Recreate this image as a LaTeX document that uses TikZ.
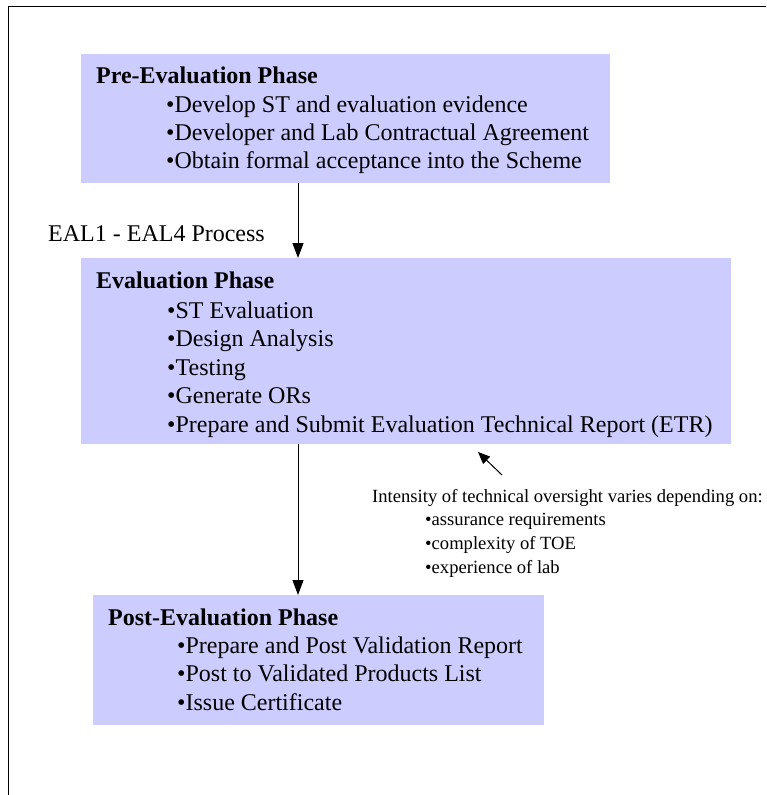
\documentclass[tikz,border=0pt]{standalone}
\usepackage{fontspec}
\setmainfont{Liberation Serif}
\usetikzlibrary{positioning, arrows.meta}
\definecolor{phaseblue}{HTML}{CCCCFF}

\tikzset{
  phase/.style={fill=phaseblue, draw=none, inner sep=0pt, anchor=north west},
  phasetitle/.style={anchor=base west, inner sep=0pt, font=\fontsize{24}{28}\selectfont\bfseries},
  phaseitem/.style={anchor=base west, inner sep=0pt, font=\fontsize{24}{28}\selectfont},
  notetext/.style={anchor=base west, inner sep=0pt, font=\fontsize{18.6}{24}\selectfont},
  flow/.style={-{Triangle[length=15pt,width=11pt]}, line width=1pt},
}

\begin{document}
\begin{tikzpicture}[x=1pt,y=-1pt]
\useasboundingbox (0,0) rectangle (766,795);
\draw[line width=1pt] (8.5,795) |- (766,6.5);

% phase boxes
\node[phase, minimum width=529pt, minimum height=129pt] (pre) at (81,54) {};
\node[phase, minimum width=650pt, minimum height=186pt] (eval) at (81,258) {};
\node[phase, minimum width=451pt, minimum height=130pt] (post) at (93,595) {};

\node[phasetitle] (pre-title) at (96,83) {Pre-Evaluation Phase};
\foreach \txt [count=\i] in {Develop ST and evaluation evidence,
    Developer and Lab Contractual Agreement,
    Obtain formal acceptance into the Scheme}
  \node[phaseitem] (pre-\i) at (166,84+28*\i) {\textbullet\txt};

\node[phasetitle] (eval-title) at (96,288) {Evaluation Phase};
\foreach \txt [count=\i] in {ST Evaluation, Design Analysis, Testing, Generate ORs,
    Prepare and Submit Evaluation Technical Report (ETR)}
  \node[phaseitem] (eval-\i) at (167,289.5+28.5*\i) {\textbullet\txt};

\node[phasetitle] (post-title) at (108,625) {Post-Evaluation Phase};
\foreach \txt [count=\i] in {Prepare and Post Validation Report,
    Post to Validated Products List, Issue Certificate}
  \node[phaseitem] (post-\i) at (177,624.5+28.5*\i) {\textbullet\txt};

% process flow
\coordinate (axis) at (298,0);
\draw[flow] (pre.south -| axis) -- (eval.north -| axis);
\draw[flow] (eval.south -| axis) -- (post.north -| axis);
\node[phaseitem] (eal) at (48,241) {EAL1 - EAL4 Process};

% oversight note
\node[notetext] (note) at (372,502) {Intensity of technical oversight varies depending on:};
\foreach \txt [count=\i] in {assurance requirements, complexity of TOE, experience of lab}
  \node[notetext] (note-\i) at (425,502+23.7*\i) {\textbullet\txt};
\coordinate (note-tail) at (502,475);
\coordinate (note-tip) at (478,452);
\draw[flow, -{Triangle[length=12pt,width=10pt]}] (note-tail) -- (note-tip);
\end{tikzpicture}
\end{document}
